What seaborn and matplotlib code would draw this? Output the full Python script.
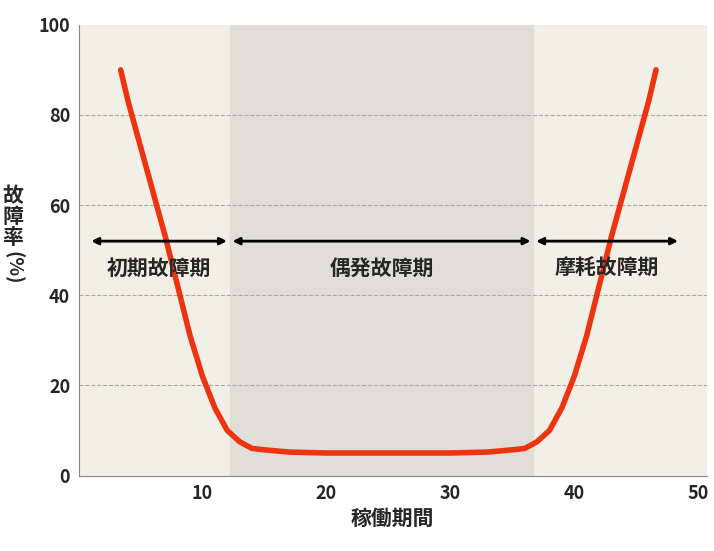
import matplotlib
matplotlib.use("Agg")
import matplotlib.pyplot as plt
import seaborn as sns
import pandas as pd

sns.set_style("white")
plt.rcParams['font.family'] = ['Noto Sans CJK JP', 'DejaVu Sans']

# bathtub curve values
hours = [3.4, 4, 5, 6, 7, 8, 9, 10, 11, 12, 13, 14, 15, 17, 20, 25, 30, 33, 35, 36, 37, 38, 39, 40, 41, 42, 43, 44, 45, 46, 46.6]
rate = [90, 83, 73, 63, 53, 42, 31, 22, 15, 10, 7.5, 6, 5.7, 5.2, 5, 5, 5, 5.2, 5.7, 6, 7.5, 10, 15, 22, 31, 42, 53, 63, 73, 83, 90]
phase_names = ['初期故障期', '偶発故障期', '摩耗故障期']
phase_bounds = [(0.8, 12.2), (12.2, 36.7), (36.7, 48.6)]

df = pd.DataFrame({'hours': hours, 'rate': rate})

fig, ax = plt.subplots(figsize=(7.14, 5.51), dpi=100)
ax.set_facecolor('#F2EFE6')
ax.axvspan(12.2, 36.7, color='#E0DFD7', zorder=0)
for yv in [20, 40, 60, 80]:
    ax.axhline(yv, color='#AAAAAA', linestyle='--', linewidth=0.8, zorder=1)

sns.lineplot(data=df, x='hours', y='rate', ax=ax, color='#EE3311', linewidth=4, zorder=3)

for name, (a, b) in zip(phase_names, phase_bounds):
    ax.annotate('', xy=(a, 52), xytext=(b, 52),
                arrowprops=dict(arrowstyle='<|-|>', color='black', lw=2, mutation_scale=10), zorder=4)
    ax.text((a + b) / 2, 46, name, ha='center', va='center', fontsize=15, fontweight='bold', zorder=4)

ax.set_xlim(0, 50.7)
ax.set_ylim(0, 100)
ax.set_xticks([10, 20, 30, 40, 50])
ax.set_yticks([0, 20, 40, 60, 80, 100])
ax.tick_params(labelsize=13, length=0, pad=6)
for lbl in ax.get_xticklabels() + ax.get_yticklabels():
    lbl.set_fontweight('bold')
ax.set_xlabel('稼働期間', fontsize=15, fontweight='bold')
ax.set_ylabel('')
fig.text(0.018, 0.55, '故\n障\n率', fontsize=15, fontweight='bold', ha='center', va='bottom', linespacing=1.0)
fig.text(0.018, 0.545, '(%)', fontsize=14, fontweight='bold', ha='center', va='top', rotation=-90)
for s in ['top', 'right']:
    ax.spines[s].set_visible(False)
for s in ['left', 'bottom']:
    ax.spines[s].set_color('#888888')

plt.subplots_adjust(left=0.11, right=0.99, top=0.955, bottom=0.137)
plt.savefig('out.png', dpi=100)
